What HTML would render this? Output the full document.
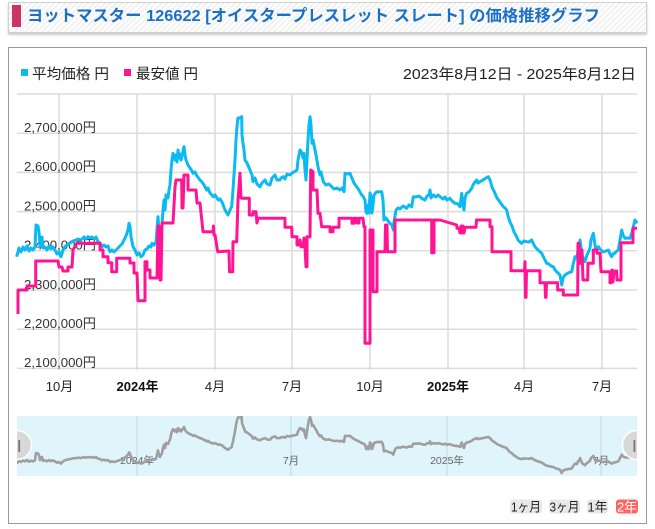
<!DOCTYPE html>
<html><head><meta charset="utf-8">
<style>
html,body{margin:0;padding:0;background:#fff;}
body{width:655px;height:529px;position:relative;overflow:hidden;font-family:"Liberation Sans","Noto Sans CJK JP",sans-serif;}
.title{position:absolute;left:8px;top:2px;width:639px;height:31px;box-sizing:border-box;border:1px solid #d0d0d0;
background:repeating-linear-gradient(-45deg,#fff 0,#fff 2px,#f2f2f2 2px,#f2f2f2 4px);box-shadow:0 2px 2px #ccc;}
.main{position:absolute;left:8px;top:47px;width:639px;height:477px;box-sizing:border-box;border:1px solid #999;background:#fff;}
svg{position:absolute;left:0;top:0;}
</style></head><body>
<div class="title"></div>
<div class="main"></div>
<svg width="655" height="529" viewBox="0 0 655 529" font-family="Liberation Sans, Noto Sans CJK JP, sans-serif">
<defs>
<path id="avg" vector-effect="non-scaling-stroke" stroke-linejoin="round" d="M16.7,256.7 L19,248 21,252 23,247 25,250 27,246 29,251 31,248 33,250 35,247 36,225 38,226 39,232 40,246 41,240 42,237 43,248 45,247 47,250 49,246 51,249 53,247 55,250 57,254 59,252 61,256.7 63,250 65,246.7 67,245 70,243 73,241 76,240 78,239 81,240 84,237 86,239 88,236.7 90,238 92,237 94,239 96,237 98,241.7 100,243 102,246.7 104,245 106,247 108,246 110,251.7 112,250 114,252 116,250 118,248 120,246 122,244 124,240 126,236 128,230 129,223.3 130,226 131,236.7 133,246.7 135,250 137,255 139,253 141,256.7 143,255 145,250 147,249 149,246 151,247 152,243.3 154,245 156,242 158,216.7 159,232 160,236.7 162,225 163,210 164,200 165,210 166,195 168,198 169,190 170,185 171,170 172,160 173,153.3 175,160 176,155 177,162 178,150 179,158 180,154 181,160 182,156 184,146.7 185,155 186,160 188,165 190,168 192,171 193,173.3 195,172 197,176 200,180 202,182 204,185 206.7,190 208,188 210,193 213.3,196.7 215,195 218.3,200 220,199 222,202 225,210 228,215 230,210 231.7,206.7 233,190 235,160 236,140 237.3,123.3 238,118 240,118 241.7,116.7 242,135 243,143.3 244,150 245,160 247,163 250,170 252,175 253,181.7 255,178 257,184 260,186.7 262,183 265,180 267,184 270,185 272,178 275,175 277,180 280,180 281,178 283.3,176.7 285,179 287,174 290,175 292,173 294,172 297,170 298,160 300,150 302,153 303,158 304,153.3 305,170 306,180 307,160 308,140 309,125 310,116.7 311,125 312,143.3 313,140 315,150 316,155 318,166.7 320,175 321,172 323.3,181.7 326,185 329,184 331.7,186.7 334,189 337,188 340,190 342,188 344,191.7 345,173.3 348,174 350,173.3 352,178.3 354,183 356.7,186.7 359,190 361,194 363.3,196.7 365,200 366,212 367,213.3 368,205 369,213 370,193 371,197 372,213 373,205 374,195 376.7,191.7 378,192 380,191.7 381.7,191.7 383,200 384,220 386,218 388,221 390,223.3 392,225 393.3,230 394,222 396,210 398,208 400,209 403,206 406.7,208.3 409,205 411.7,206.7 413.3,196.7 416,197 419,196 421.7,198.3 425,200 427,196 429,195 430,190 431,198 433.3,195 436,197 438,195 440,196.7 443,199 445,197 447,200 450,198.3 452,201 455,203.3 458,204 460,206.7 461.7,193.3 463,205 464,210 465,198 466.7,193.3 469,192 471.7,188.3 473,185 475,182 476.7,180 478,183 480,181.7 483,180 486,178 488.3,176.7 490,180 492,187 495,193.3 497,198 500,202 503.3,206.7 505,208 506.7,210 508,216 510,222 512.3,226.7 514,232 516.7,236.7 518,240 520,242 521.7,243.3 524,241 526.7,241.7 529,242 531.7,240 533,243 535,246.7 538,250 541.7,253.3 544,258 546.7,263.3 549,264 551,266 553.3,266.7 555,270 558.3,273.3 560,275 561.7,285 563,278 565,275 568,273 571.7,271.7 573,265 575,256.7 577,258 578,250 579,248 580,240 582,255 585,261.7 587,255 588,253 590,248 591,240 593.3,233.3 595,245 596,250 598.3,246.7 600,249 603,252 606,251 608.3,250 610,254 611.7,256.7 613,254 615,253 617,251 618.3,250 620,240 621.7,230 623,235 625,238.3 628,238 630,238.3 632,232 635,220 637,223.3"/>
<clipPath id="navclip"><rect x="17" y="416" width="620" height="60"/></clipPath>
<clipPath id="plotclip"><rect x="15" y="90" width="624" height="282"/></clipPath>
</defs>

<!-- title -->
<rect x="12" y="5" width="9" height="22" fill="#cf3366"/>
<text x="27" y="21" font-size="16" font-weight="bold" fill="#1a70c8" textLength="573" lengthAdjust="spacingAndGlyphs">ヨットマスター 126622 [オイスタープレスレット スレート] の価格推移グラフ</text>

<!-- legend -->
<rect x="21" y="69" width="7" height="7" fill="#0cbaf2"/>
<text x="32" y="79" font-size="14.5" fill="#222" textLength="77" lengthAdjust="spacingAndGlyphs">平均価格 円</text>
<rect x="124" y="69" width="7" height="7" fill="#ff1493"/>
<text x="136" y="79" font-size="14.5" fill="#222" textLength="62" lengthAdjust="spacingAndGlyphs">最安値 円</text>
<text x="636" y="79" font-size="15" fill="#222" text-anchor="end" textLength="233" lengthAdjust="spacingAndGlyphs">2023年8月12日 - 2025年8月12日</text>

<!-- grid -->
<g stroke="#e4e4e4" stroke-width="2">
<line x1="59" y1="94" x2="59" y2="370"/>
<line x1="137" y1="94" x2="137" y2="370"/>
<line x1="215" y1="94" x2="215" y2="370"/>
<line x1="292" y1="94" x2="292" y2="370"/>
<line x1="370" y1="94" x2="370" y2="370"/>
<line x1="448" y1="94" x2="448" y2="370"/>
<line x1="524" y1="94" x2="524" y2="370"/>
<line x1="602" y1="94" x2="602" y2="370"/>
</g>
<g stroke="#dcdcdc" stroke-width="1.5">
<line x1="17" y1="94" x2="637" y2="94"/>
<line x1="17" y1="133.2" x2="637" y2="133.2"/>
<line x1="17" y1="172.4" x2="637" y2="172.4"/>
<line x1="17" y1="211.6" x2="637" y2="211.6"/>
<line x1="17" y1="250.8" x2="637" y2="250.8"/>
<line x1="17" y1="290" x2="637" y2="290"/>
<line x1="17" y1="329.2" x2="637" y2="329.2"/>
<line x1="17" y1="368.4" x2="637" y2="368.4"/>
</g>

<!-- y labels -->
<g font-size="13" fill="#333">
<text x="24" y="132" textLength="72" lengthAdjust="spacingAndGlyphs">2,700,000円</text>
<text x="24" y="171.2" textLength="72" lengthAdjust="spacingAndGlyphs">2,600,000円</text>
<text x="24" y="210.4" textLength="72" lengthAdjust="spacingAndGlyphs">2,500,000円</text>
<text x="24" y="249.6" textLength="72" lengthAdjust="spacingAndGlyphs">2,400,000円</text>
<text x="24" y="288.8" textLength="72" lengthAdjust="spacingAndGlyphs">2,300,000円</text>
<text x="24" y="328" textLength="72" lengthAdjust="spacingAndGlyphs">2,200,000円</text>
<text x="24" y="367.2" textLength="72" lengthAdjust="spacingAndGlyphs">2,100,000円</text>
</g>

<!-- x labels -->
<g font-size="13" fill="#222" text-anchor="middle">
<text x="59.5" y="391">10月</text>
<text x="137.5" y="391" font-weight="bold" fill="#111">2024年</text>
<text x="215" y="391">4月</text>
<text x="292" y="391">7月</text>
<text x="370" y="391">10月</text>
<text x="448" y="391" font-weight="bold" fill="#111">2025年</text>
<text x="524" y="391">4月</text>
<text x="602" y="391">7月</text>
</g>

<!-- series -->
<g clip-path="url(#plotclip)">
<use href="#avg" stroke="#0cbaf2" stroke-width="3" fill="none"/>
<path fill="none" stroke="#ff1493" stroke-width="3" stroke-linejoin="round" d="M18,314 L18,290 27,290 27,286 35.7,286 35.7,261 58,261 59,267 62,267 63,271 68,271 68,267 72,267 73,250 76.7,243.3 100,243.3 100,250 103,250 103,256.7 108,256.7 108,262.7 111.7,262.7 111.7,271.7 116.7,271.7 116.7,258.3 130,258.3 130,263 134,263 134,273 137,273 138,300.7 145,300.7 145,261.7 147,261.7 147,270 150,270 150,278 157,278 158,226 159,226 160,280 161,280 162,223 173,223 175,187 176,180 181.7,180 182,208 183,208 184,175 188,175 188,190 196,190 197,203 200,203 203,231.7 213,231.7 213.5,226 214,235 215,235 217.7,251.7 229,251 229.5,271.7 232.7,271.7 233,241.7 236.7,241.7 238,200 240,173.3 241,198 242,198.3 249.3,198.3 249.3,215 253,215 253,211.7 256,211.7 257,223 258,218 259,218.3 285,218.3 285,227.3 291.7,227.3 292,236.7 297,236.7 297,245 299,245 300,240 301,246.7 303,246.7 304,238 305,246 306,266.7 307,266.7 307,236.7 310,236.7 310.7,170 313,171.7 313,190 317,190 318,213.3 320,213.3 321.7,226.7 330,226.7 330,231.7 333,231.7 333,227.3 339,227.3 339,218.3 352,218.3 352,223.3 354,223.3 354,218.3 357,218.3 357,223 359,223 359,218.3 363,218.3 364,226.7 365,226.7 365,343.3 370,343.3 370,230 373,230 373,291.7 377,291.7 377,251.7 385,251.7 385.5,225 387,225 387.5,251.7 395,251.7 395,220 431.7,220 431.7,252.7 434,252.7 434,220 440,220 456.7,225 457,228.3 459,228.3 460,233 461,226 462,233 463,226 464,233 465,227.3 476,227.3 476.5,220 490,220 490,226.7 492,226.7 492,251.7 511,251.7 511,270.7 524.5,270.7 525,261.7 525.5,297.3 526,297.3 526.5,270.7 540,270.7 540,282.7 545,282.7 545.5,297.3 546,297.3 546.5,282.7 557.7,282.7 557.7,290 563.3,290 563.3,295 577.7,295 578,243.3 579,243.3 580,263.3 581,263.3 582,250 583,280 587.7,280 588,263.3 593.3,263.3 593.3,250 597,250 597,253.3 600,253.3 601,271.7 610,271.7 610,282.7 611,282.7 612,270 613,282 614,271 616.7,271 617,280 621,280 621,242.7 633,242.7 633,228.3 637,228.3"/>
</g>

<!-- navigator -->
<rect x="17" y="416" width="620" height="60" fill="#e0f4fc"/>
<g stroke="#d0e6ee" stroke-width="2">
<line x1="137" y1="416" x2="137" y2="476"/>
<line x1="291" y1="416" x2="291" y2="476"/>
<line x1="447" y1="416" x2="447" y2="476"/>
<line x1="601" y1="416" x2="601" y2="476"/>
</g>
<g font-size="10.5" fill="#666" text-anchor="middle">
<text x="137" y="464">2024年</text>
<text x="291" y="464">7月</text>
<text x="447" y="464">2025年</text>
<text x="601" y="464">7月</text>
</g>
<g clip-path="url(#navclip)">
<use href="#avg" transform="translate(0,378.14) scale(1,0.333)" stroke="#a09e9e" stroke-width="2.6" fill="none"/>
<circle cx="17" cy="445" r="14.5" fill="#d8d8d8" stroke="#fff" stroke-width="1.5"/>
<rect x="18.3" y="440" width="1.8" height="12" fill="#777"/>
<circle cx="637" cy="445" r="14.5" fill="#d8d8d8" stroke="#fff" stroke-width="1.5"/>
<rect x="633.5" y="440" width="1.8" height="12" fill="#777"/>
</g>

<!-- range buttons -->
<g font-size="13" text-anchor="middle">
<rect x="510" y="499.5" width="32" height="14" rx="3" fill="#e8e8e8"/>
<text x="526" y="511.5" fill="#222" textLength="30" lengthAdjust="spacingAndGlyphs">1ヶ月</text>
<rect x="549" y="499.5" width="31" height="14" rx="3" fill="#e8e8e8"/>
<text x="564.5" y="511.5" fill="#222" textLength="30" lengthAdjust="spacingAndGlyphs">3ヶ月</text>
<rect x="587" y="499.5" width="21" height="14" rx="3" fill="#e8e8e8"/>
<text x="597.5" y="511.5" fill="#222" textLength="20" lengthAdjust="spacingAndGlyphs">1年</text>
<rect x="616" y="499.5" width="22" height="14" rx="3" fill="#ff6363"/>
<text x="627" y="511.5" fill="#fff" textLength="20" lengthAdjust="spacingAndGlyphs">2年</text>
</g>
</svg>
</body></html>
